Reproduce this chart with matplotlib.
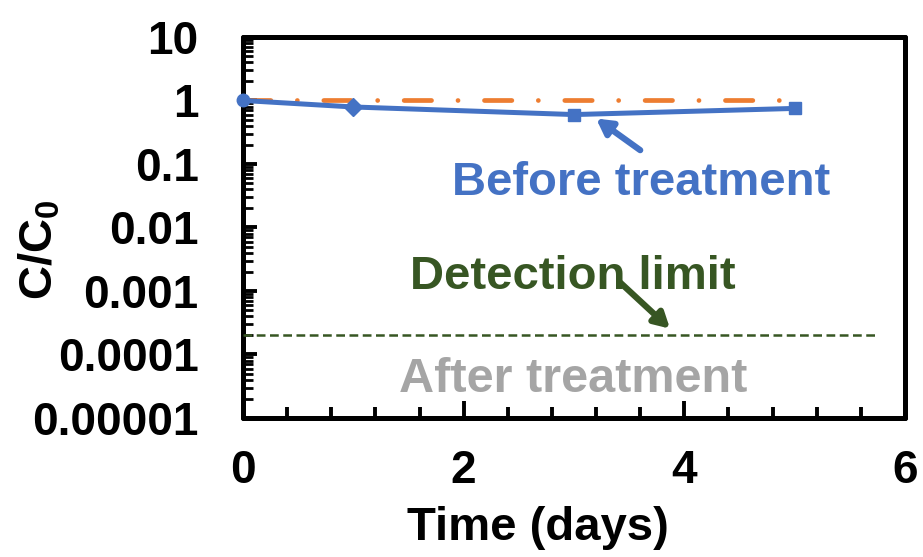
import matplotlib
matplotlib.use("Agg")
import matplotlib.pyplot as plt
from matplotlib.ticker import FixedLocator, LogLocator, NullFormatter, FixedFormatter

plt.rcParams['font.family'] = ['Liberation Sans', 'DejaVu Sans']
plt.rcParams['font.weight'] = 'bold'
plt.rcParams['mathtext.fontset'] = 'custom'
plt.rcParams['mathtext.rm'] = 'Liberation Sans:bold'
plt.rcParams['mathtext.bf'] = 'Liberation Sans:bold'
plt.rcParams['mathtext.it'] = 'Liberation Sans:bold'

# Data
time_before = [0, 1, 3, 5]
conc_before = [1.0, 0.79, 0.60, 0.75]
markers_before = ['o', 'D', 's', 's']
time_ref = [0, 5]
conc_ref = [1.0, 1.0]
detection_limit = 2e-4
detection_span = [0, 5.75]
x_ticks = [0, 2, 4, 6]
y_ticks = [1e-5, 1e-4, 1e-3, 1e-2, 1e-1, 1, 10]
y_ticklabels = ['0.00001', '0.0001', '0.001', '0.01', '0.1', '1', '10']

BLUE = '#4472C4'
ORANGE = '#ED7D31'
GREEN = '#375623'
GRAY = '#A5A5A5'

fig = plt.figure(figsize=(9.23, 5.57), dpi=100)
ax = fig.add_axes([0.2633, 0.2496, 0.7172, 0.684])

ax.set_yscale('log')
ax.set_xlim(0, 6)
ax.set_ylim(1e-5, 10)

# Reference (no-treatment) series
ax.plot(time_ref, conc_ref, color=ORANGE, lw=3.4,
        linestyle=(0, (5.8, 5.6, 0.01, 5.6)), dash_capstyle='round', zorder=3)
# Before treatment series
ax.plot(time_before, conc_before, color=BLUE, lw=3.6, zorder=4,
        solid_capstyle='round')
for t, c, m in zip(time_before, conc_before, markers_before):
    ax.plot([t], [c], marker=m, color=BLUE, ms=9, zorder=5, clip_on=False)

# Detection limit
ax.plot(detection_span, [detection_limit, detection_limit], color=GREEN,
        lw=1.8, linestyle=(0, (3.5, 1.8)), zorder=3)

# Annotations
arrow_style = '-|>,head_length=0.9,head_width=0.5'
ax.text(3.61, 0.05, 'Before treatment', color=BLUE, fontsize=34,
        fontweight='bold', ha='center', va='center')
ax.annotate('', xy=(3.2, 0.52), xytext=(3.6, 0.165),
            arrowprops=dict(arrowstyle=arrow_style, color=BLUE, lw=4.5,
                            shrinkA=0, shrinkB=0))
ax.text(2.99, 1.65e-3, 'Detection limit', color=GREEN, fontsize=34,
        fontweight='bold', ha='center', va='center')
ax.annotate('', xy=(3.87, 2.55e-4), xytext=(3.42, 1.35e-3),
            arrowprops=dict(arrowstyle=arrow_style, color=GREEN, lw=4.5,
                            shrinkA=0, shrinkB=0))
ax.text(2.99, 4.1e-5, 'After treatment', color=GRAY, fontsize=35,
        fontweight='bold', ha='center', va='center')

# Axes styling
ax.xaxis.set_major_locator(FixedLocator(x_ticks))
ax.xaxis.set_minor_locator(FixedLocator([0.4 * i for i in range(1, 15) if i % 5 != 0]))
ax.set_xticklabels([str(v) for v in x_ticks])
ax.yaxis.set_major_locator(FixedLocator(y_ticks))
ax.yaxis.set_major_formatter(FixedFormatter(y_ticklabels))
ax.yaxis.set_minor_locator(LogLocator(base=10, subs=range(2, 10), numticks=20))
ax.yaxis.set_minor_formatter(NullFormatter())

ax.tick_params(axis='both', which='both', direction='in', top=False, right=False,
               width=2.8, labelsize=33, colors='black')
ax.tick_params(axis='x', which='major', length=12, pad=22)
ax.tick_params(axis='x', which='minor', length=8)
ax.tick_params(axis='y', which='major', length=10, pad=32)
ax.tick_params(axis='y', which='minor', length=7, width=2)
for lab in ax.get_xticklabels() + ax.get_yticklabels():
    lab.set_fontweight('bold')

for s in ax.spines.values():
    s.set_linewidth(3.6)
    s.set_capstyle('round')
    s.set_joinstyle('round')

# Axis titles placed in figure coordinates
fig.text(538 / 923, 1 - 528 / 557, 'Time (days)', fontsize=34, fontweight='bold',
         ha='center', va='center')
fig.text(40 / 923, 1 - 250 / 557, r'$\mathbf{C/C_0}$', fontsize=34,
         rotation=90, ha='center', va='center')

fig.savefig('out.png', dpi=100)
